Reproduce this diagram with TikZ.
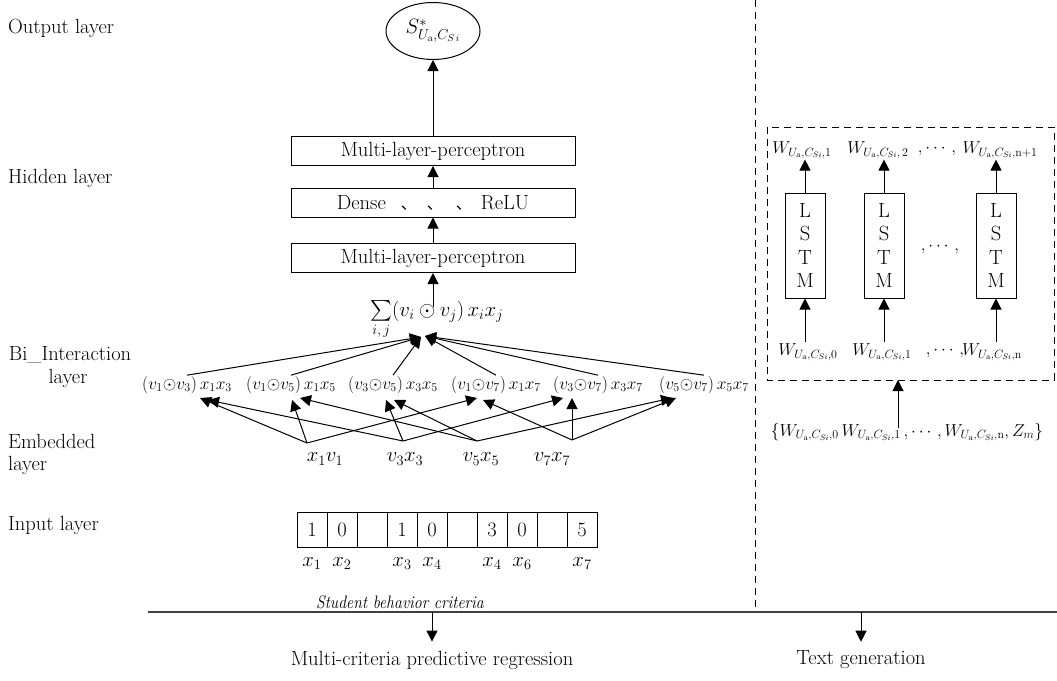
\documentclass[tikz,border=0pt]{standalone}
\usepackage{amsmath}
\usepackage{graphicx}
\usepackage{fontspec}
\newfontfamily\cjk{Noto Sans CJK SC}
\usetikzlibrary{arrows.meta,shapes.geometric}
\newcommand{\Wl}[1]{W_{U_{\mathrm a},C_{Si},#1}}
\begin{document}
\begin{tikzpicture}[x=1pt,y=-1pt,
  font=\fontsize{20.5}{23.5}\selectfont,
  arr/.style={-{Triangle[length=11pt,width=11pt]}, line width=1pt},
  box/.style={draw, line width=1pt, minimum width=284pt, minimum height=29pt, inner sep=0pt},
  lstm/.style={draw, line width=1pt, minimum width=40pt, minimum height=105pt, align=center, inner sep=0pt},
  cell/.style={draw, line width=1pt, minimum width=30pt, minimum height=35pt, inner sep=0pt},
  lbl/.style={anchor=west, inner sep=0pt},
  dsh/.style={dash pattern=on 7pt off 5pt, line width=1pt},
  item/.style={inner sep=1pt, font=\fontsize{17.5}{20}\selectfont},
  emb/.style={inner sep=1pt, font=\fontsize{20}{22}\selectfont},
  wl/.style={inner sep=1pt, font=\fontsize{17}{20}\selectfont}
]
\useasboundingbox (0,0) rectangle (1057,680);

% left labels
\node[lbl] (lo) at (8,28) {Output layer};
\node[lbl] (lh) at (8,178) {Hidden layer};
\node[inner sep=0pt] (lb1) at (70,355) {Bi\_Interaction};
\node[inner sep=0pt] (lb2) at (68,378) {layer};
\node[lbl] (le1) at (8,441) {Embedded};
\node[lbl] (le2) at (8,465) {layer};
\node[lbl] (li) at (8,525) {Input layer};

% output + hidden
\node[ellipse, draw, line width=1pt, minimum width=94pt, minimum height=57pt, inner sep=0pt] (out) at (433,31) {$S^{*}_{U_{\mathrm a},C_{S\,i}}$};
\node[box] (mlp1) at (433,151) {Multi-layer-perceptron};
\node[box] (dense) at (433,202.5) {Dense\hspace{15pt}{\cjk\fontsize{16}{16}\selectfont 、\hspace{10pt}、\hspace{13pt}、}\hspace{9pt}ReLU};
\node[box] (mlp2) at (433,258) {Multi-layer-perceptron};

\draw[arr] (mlp1.north -| out.south) -- (out.south);
\draw[arr] (dense.north -| out.south) -- (mlp1.south -| out.south);
\draw[arr] (mlp2.north -| out.south) -- (dense.south -| out.south);

\node[anchor=base west, inner sep=0pt, font=\fontsize{20}{22}\selectfont] (sum) at (370,316) {$\sum\limits_{i,\,j}(v_i\odot v_j)\,x_ix_j$};
\coordinate (sumtop) at (433,307);
\draw[arr] (sumtop) -- (mlp2.south -| sumtop);

% bi-interaction items
\coordinate (cvl) at (421,337);
\coordinate (cvr) at (425,336);
\node[item] (i1) at (187,385) {$(v_1{\odot}v_3)\,x_1x_3$};
\node[item] (i2) at (291,385) {$(v_1{\odot}v_5)\,x_1x_5$};
\node[item] (i3) at (393,385) {$(v_3{\odot}v_5)\,x_3x_5$};
\node[item] (i4) at (496,385) {$(v_1{\odot}v_7)\,x_1x_7$};
\node[item] (i5) at (598,385) {$(v_3{\odot}v_7)\,x_3x_7$};
\node[item] (i6) at (704,385) {$(v_5{\odot}v_7)\,x_5x_7$};
\draw[arr] (i1.north) -- (cvl);
\draw[arr] (i2.north) -- (cvl);
\draw[arr] (i3.north) -- (cvl);
\draw[arr] (i4.north) -- (cvr);
\draw[arr] (i5.north) -- (cvr);
\draw[arr] (i6.north) -- (cvr);

% embedded
\node[emb] (e1) at (325,459) {$x_1v_1$};
\node[emb] (e3) at (405,459) {$v_3x_3$};
\node[emb] (e5) at (481,459) {$v_5x_5$};
\node[emb] (e7) at (552,459) {$v_7x_7$};
\coordinate (f1) at (307,443);
\coordinate (f3) at (403,441);
\coordinate (f5) at (477,441);
\coordinate (f7) at (572,440);
\coordinate (t1a) at (200,398); \coordinate (t1b) at (208,400);
\coordinate (t2a) at (292,400); \coordinate (t2b) at (300,398);
\coordinate (t3a) at (386,400); \coordinate (t3b) at (394,400);
\coordinate (t4a) at (477,398); \coordinate (t4b) at (483,400);
\coordinate (t5a) at (563,398); \coordinate (t5b) at (572,398);
\coordinate (t6a) at (672,398); \coordinate (t6b) at (676,398);
\draw[arr] (f1) -- (t1a);
\draw[arr] (f1) -- (t2a);
\draw[arr] (f1) -- (t4a);
\draw[arr] (f3) -- (t1b);
\draw[arr] (f3) -- (t3a);
\draw[arr] (f3) -- (t5a);
\draw[arr] (f5) -- (t2b);
\draw[arr] (f5) -- (t3b);
\draw[arr] (f5) -- (t6a);
\draw[arr] (f7) -- (t4b);
\draw[arr] (f7) -- (t5b);
\draw[arr] (f7) -- (t6b);

% input cells
\foreach \k/\v in {1/1,2/0,3/,4/1,5/0,6/,7/3,8/0,9/,10/5}{
  \node[cell] (c\k) at ({312+30*(\k-1)},529.5) {\v};
}
\foreach \k/\t in {1/x_1,2/x_2,4/x_3,5/x_4,7/x_4,8/x_6,10/x_7}{
  \node[anchor=north, inner sep=0pt, yshift=-10pt] (x\k) at (c\k.south) {$\t$};
}
\node[inner sep=0pt, font=\fontsize{18}{20}\selectfont] (sbc) at (400,602) {\scalebox{0.88}[1]{\itshape Student behavior criteria}};

% bottom
\coordinate (hl) at (148,612);
\coordinate (hr) at (1057,612);
\draw[line width=1.2pt, black!75] (hl) -- (hr);
\node[inner sep=0pt] (mcr) at (432,660) {Multi-criteria predictive regression};
\node[inner sep=0pt] (tg) at (861,660) {Text generation};
\draw[arr] (mcr.north |- hl) -- ([yshift=9pt]mcr.north);
\draw[arr] (tg.north |- hl) -- ([yshift=9pt]tg.north);

% right side
\coordinate (vt) at (755,0);
\coordinate (vb) at (755,611);
\draw[dsh] (vt) -- (vb);
\draw[dsh] (767,127) rectangle (1054,380);
\coordinate (boxbot) at (898,380);

\node[lstm] (L1) at (805,245.5) {L\\S\\T\\M};
\node[lstm] (L2) at (884,245.5) {L\\S\\T\\M};
\node[lstm] (L3) at (996,245.5) {L\\S\\T\\M};
\node[wl] (dl) at (940,248) {$,\cdots,$};

\node[wl] (a1) at (802,150) {$\Wl{1}$};
\node[wl] (a2) at (878,150) {$\Wl{\,2}$};
\node[wl] (ad) at (937,150) {$,\cdots,$};
\node[wl] (a3) at (1000,150) {$\Wl{\mathrm{n}+1}$};

\node[wl] (b1) at (808,352) {$\Wl{0}$};
\node[wl] (b2) at (882,352) {$\Wl{1}$};
\node[wl] (bd) at (945,352) {$,\cdots,$};
\node[wl] (b3) at (992,352) {$\Wl{\mathrm{n}}$};

\draw[arr] (L1.north) -- (L1.north |- a1.south);
\draw[arr] (L2.north) -- (L2.north |- a2.south);
\draw[arr] (L3.north) -- (L3.north |- a3.south);
\draw[arr] (L1.south |- b1.north) -- (L1.south);
\draw[arr] (L2.south |- b2.north) -- (L2.south);
\draw[arr] (L3.south |- b3.north) -- (L3.south);

\node[wl] (wset) at (907,432) {$\{\Wl{0}\,\Wl{1}\,,\cdots,\Wl{\mathrm n},Z_m\}$};
\draw[arr] ([yshift=-6pt]wset.north -| boxbot) -- (boxbot);
\end{tikzpicture}
\end{document}
